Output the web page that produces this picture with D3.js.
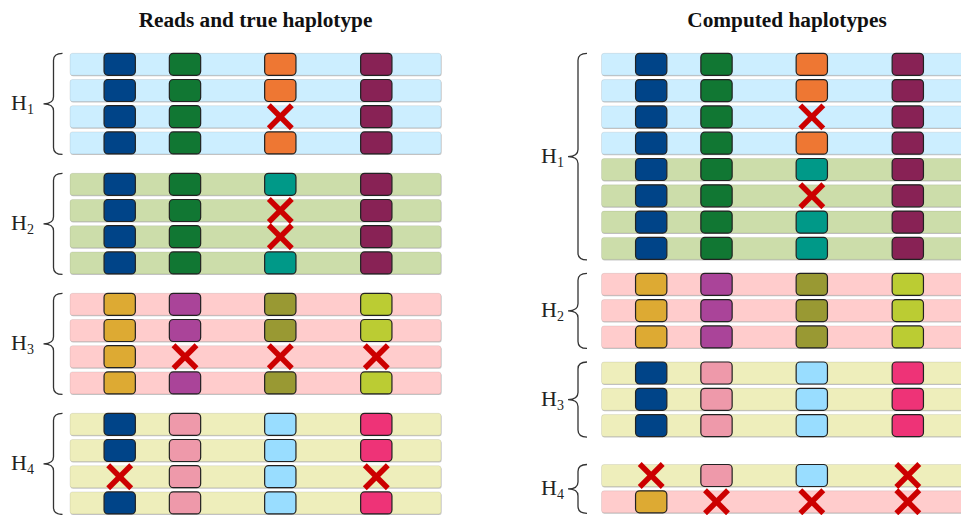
<!DOCTYPE html>
<html>
<head>
<meta charset="utf-8">
<script src="https://cdn.jsdelivr.net/npm/d3@7"></script>
<style>
  html, body { margin: 0; padding: 0; background: #ffffff; }
  svg { display: block; }
</style>
</head>
<body>
<svg id="chart" width="961" height="515"></svg>
<script>
// ---------------- data ----------------
// SNP site positions along a read (arbitrary genomic units, read length READ_LEN)
const sitePositions = [49.7, 115, 210.3, 306.3];
const READ_LEN = 371;

// alleles of the four true haplotypes at the four sites
const trueHaplotypes = [
  ["blue", "green", "orange", "wine"],
  ["blue", "green", "teal",   "wine"],
  ["sand", "purple", "olive", "pear"],
  ["blue", "pink",  "sky",    "magenta"]
];
const haplotypeTint = ["#CCEEFF", "#CCDDAA", "#FFCCCC", "#EEEEBB"];
const alleleColor = {
  blue: "#004488", green: "#117733", orange: "#EE7733", wine: "#882255",
  teal: "#009988", sand: "#DDAA33", purple: "#AA4499", olive: "#999933",
  pear: "#BBCC33", pink: "#EE99AA", sky: "#99DDFF", magenta: "#EE3377"
};
const groupLabels = ["1", "2", "3", "4"];

// Left panel: reads and true haplotype (source haplotype, assigned group, observed sites; 0 = error)
const leftTitle = "Reads and true haplotype";
const leftSource = [0,0,0,0, 1,1,1,1, 2,2,2,2, 3,3,3,3];
const leftGroup  = [0,0,0,0, 1,1,1,1, 2,2,2,2, 3,3,3,3];
const leftMask   = ["1111","1111","1101","1111",
                    "1111","1101","1101","1111",
                    "1111","1111","1000","1111",
                    "1111","1111","0110","1111"];

// Right panel: computed haplotypes
const rightTitle = "Computed haplotypes";
const rightSource = [0,0,0,0,1,1,1,1, 2,2,2, 3,3,3, 3,2];
const rightGroup  = [0,0,0,0,0,0,0,0, 1,1,1, 2,2,2, 3,3];
const rightMask   = ["1111","1111","1101","1111","1111","1101","1111","1111",
                     "1111","1111","1111",
                     "1111","1111","1111",
                     "0110","1000"];

// ---------------- drawing ----------------
const svg = d3.select("#chart");
const ROW_H = 22, BOX_W = 31.3;
const serif = "'Liberation Serif', 'DejaVu Serif', serif";

function drawPanel(cfg) {
  const g = svg.append("g");
  const x = d3.scaleLinear().domain([0, READ_LEN]).range([cfg.left, cfg.left + READ_LEN]);
  const yRow = d3.scaleLinear().domain([0, 1]).range([cfg.top, cfg.top + cfg.pitch]);
  const reads = cfg.source.map((s, i) => ({
    i, source: s, group: cfg.group[i], mask: cfg.mask[i],
    y: yRow(i) + cfg.groupExtra[cfg.group[i]]
  }));

  // title
  g.append("text")
    .attr("x", x(READ_LEN / 2)).attr("y", 26.5)
    .attr("text-anchor", "middle")
    .attr("font-family", serif).attr("font-weight", "bold").attr("font-size", 21.3)
    .attr("fill", "#111")
    .text(cfg.title);

  // strips (reads)
  const rowG = g.selectAll("g.read").data(reads).join("g").attr("class", "read");
  rowG.append("rect")
    .attr("x", x(0) + 0.6).attr("y", d => d.y + 1)
    .attr("width", READ_LEN).attr("height", ROW_H)
    .attr("rx", 2.5).attr("fill", "#9a9a9a").attr("opacity", 0.55);
  rowG.append("rect")
    .attr("x", x(0)).attr("y", d => d.y)
    .attr("width", READ_LEN).attr("height", ROW_H)
    .attr("rx", 2.5).attr("fill", d => haplotypeTint[d.source])
    .attr("stroke", "rgba(0,0,0,0.10)").attr("stroke-width", 0.8);

  // allele boxes
  const cells = [];
  reads.forEach(r => sitePositions.forEach((p, k) => {
    cells.push({ r, k, p, ok: r.mask[k] === "1", allele: trueHaplotypes[r.source][k] });
  }));
  g.selectAll("rect.allele").data(cells.filter(c => c.ok)).join("rect")
    .attr("class", "allele")
    .attr("x", c => x(c.p) - BOX_W / 2).attr("y", c => c.r.y)
    .attr("width", BOX_W).attr("height", ROW_H)
    .attr("rx", 4)
    .attr("fill", c => alleleColor[c.allele])
    .attr("stroke", "#222").attr("stroke-width", 1.2);

  // errors
  const xs = g.selectAll("g.err").data(cells.filter(c => !c.ok)).join("g")
    .attr("class", "err")
    .attr("transform", c => `translate(${x(c.p)},${c.r.y + ROW_H / 2})`);
  const a = 11.5;
  xs.append("line").attr("x1", -a).attr("y1", -a).attr("x2", a).attr("y2", a);
  xs.append("line").attr("x1", -a).attr("y1", a).attr("x2", a).attr("y2", -a);
  xs.selectAll("line").attr("stroke", "#CC0000").attr("stroke-width", 5.5);

  // braces + labels
  const groups = d3.groups(reads, d => d.group);
  groups.forEach(([gi, rs]) => {
    const top = d3.min(rs, d => d.y);
    const bot = d3.max(rs, d => d.y) + ROW_H + 0.5;
    const mid = (top + bot) / 2;
    const b = cfg.left - cfg.braceShift;
    const xr = b - 7.5, xl = b - 16.5, xt = b - 26.5, r = 7;
    const path = `M${xr},${top} Q${xl},${top} ${xl},${top + r} L${xl},${mid - r} ` +
      `Q${xl},${mid} ${xt},${mid} Q${xl},${mid} ${xl},${mid + r} L${xl},${bot - r} ` +
      `Q${xl},${bot} ${xr},${bot}`;
    g.append("path").attr("d", path).attr("fill", "none")
      .attr("stroke", "#333").attr("stroke-width", 1.3);
    const t = g.append("text")
      .attr("x", xt - cfg.labelGap).attr("y", mid + 6)
      .attr("font-family", serif).attr("font-size", 22).attr("fill", "#222");
    t.append("tspan").text("H");
    t.append("tspan").attr("font-size", 14).attr("dy", 4).text(groupLabels[gi]);
  });
}

drawPanel({
  title: leftTitle, left: 70, top: 53.3, pitch: 26.2,
  groupExtra: [0, 15.2, 30.4, 45.6], labelGap: 32.5, braceShift: 0,
  source: leftSource, group: leftGroup, mask: leftMask
});
drawPanel({
  title: rightTitle, left: 601.5, top: 53.3, pitch: 26.3,
  groupExtra: [0, 9.6, 19.4, 43], labelGap: 27, braceShift: 7,
  source: rightSource, group: rightGroup, mask: rightMask
});
</script>
</body>
</html>
